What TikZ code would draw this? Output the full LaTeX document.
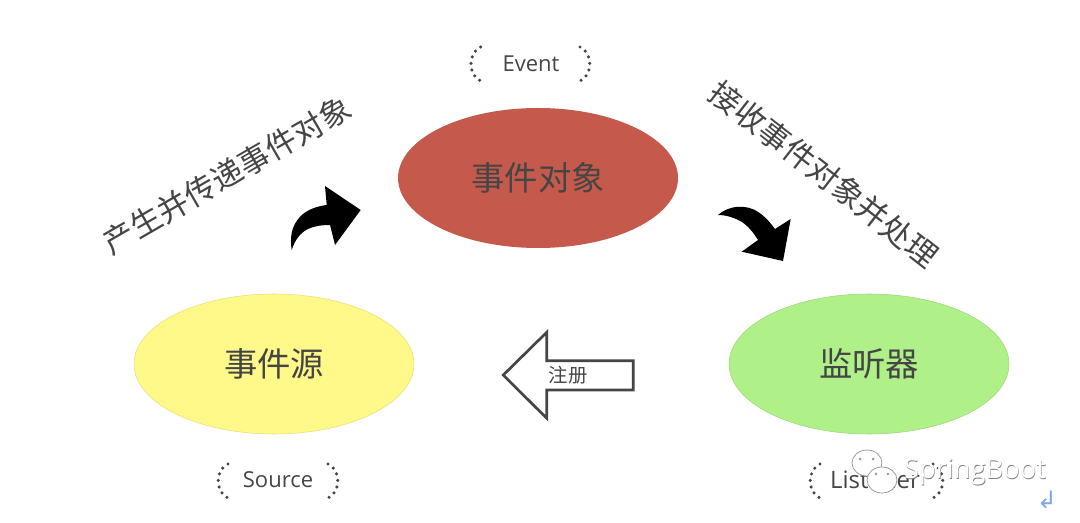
\documentclass[tikz,border=0pt]{standalone}
\usepackage{fontspec}
\setmainfont{Open Sans}
\newfontfamily\cjk{Noto Sans CJK SC}
\newfontfamily\symb{DejaVu Sans}
\usetikzlibrary{shapes.geometric}
\definecolor{inktext}{HTML}{454545}
\definecolor{redfill}{HTML}{C55A4C}
\definecolor{yellowfill}{HTML}{FFF98A}
\definecolor{greenfill}{HTML}{B0F088}
\definecolor{arrowblue}{HTML}{7FA8E8}
\tikzset{
  x=0.75pt,y=-0.75pt,
  blob/.style={ellipse,minimum width=210pt,minimum height=105pt,inner sep=0pt,text=inktext,font=\cjk\fontsize{25}{28}\selectfont},
  slanted/.style={text=inktext,font=\cjk\fontsize{23.3}{28}\selectfont,inner sep=0pt},
  tag/.style={text=inktext,font=\fontsize{16.5}{20}\selectfont,inner sep=0pt},
  bracket/.style={draw=inktext,line width=2.6pt,line cap=round,dash pattern=on 0pt off 5pt},
  bubble/.style={draw=black!45,fill=white,line width=0.5pt},
  arrowlabel/.style={text=inktext,font=\cjk\fontsize{14.5}{16}\selectfont,inner sep=0pt}
}
\begin{document}
\begin{tikzpicture}
\useasboundingbox (0,0) rectangle (1080,523);
\fill[white] (0,0) rectangle (1080,523);
% ellipses
\node[blob,fill=redfill] (event) at (538,178) {事件对象};
\node[blob,fill=yellowfill,draw=yellowfill!90!black,line width=0.4pt] (source) at (274,364) {事件源};
\node[blob,fill=greenfill,draw=greenfill!90!black,line width=0.4pt] (listener) at (869,364) {监听器};
% slanted labels
\node[slanted,rotate=30] (produce) at (227,175) {产生并传递事件对象};
\node[slanted,rotate=-38] (receive) at (824,174) {接收事件对象并处理};
% curved arrows
\fill[black] (291.7,250) .. controls (289,232) and (294,222) .. (303,214)
  .. controls (311,208) and (319,206) .. (326.7,205)
  -- (325,186) -- (360.7,210) -- (335,245) -- (330,225)
  .. controls (322,225) and (314,226) .. (308,229)
  .. controls (300,233) and (295,240) .. cycle;
\fill[black] (718,215) .. controls (726,208) and (736,206) .. (744,207)
  .. controls (757,208) and (767,218) .. (775,229)
  -- (790.7,219) -- (783,261) -- (741.7,251.7) -- (758,240)
  .. controls (753,232) and (748,226) .. (742,222)
  .. controls (735,218) and (727,215) .. cycle;
% block arrow
\draw[draw=inktext,line width=2pt,line join=miter,fill=white]
  (503.3,375) -- (546.7,332.3) -- (546.7,360.7) -- (633.3,360.7) -- (633.3,390)
  -- (546.7,390) -- (546.7,418.3) -- cycle;
\node[arrowlabel] (reg) at (568,375) {注册};
% tags
\node[tag] (eventtag) at (531,64) {Event};
\node[tag] (sourcetag) at (278,480) {Source};
\node[tag,font=\fontsize{18}{20}\selectfont] (listenertag) at (875,480) {Listener};
% dotted brackets
\foreach \cx/\lx/\rx/\cy in {531/470.7/590/64, 278/218/338/481, 877/810/943/481}{
  \draw[bracket] (\lx+10,\cy-17) .. controls (\lx-3,\cy-11) and (\lx-3,\cy+11) .. (\lx+10,\cy+17);
  \draw[bracket] (\rx-10,\cy-17) .. controls (\rx+3,\cy-11) and (\rx+3,\cy+11) .. (\rx-10,\cy+17);
}
% watermark
\draw[bubble] (867,463) ellipse [x radius=15,y radius=13];
\draw[bubble] (882,480) ellipse [x radius=15,y radius=13];
\fill[black!40] (860,459) circle (1.5) (873,459) circle (1.5) (876,474) circle (1.3) (888,474) circle (1.3);
\node[inner sep=0pt,text=black!50,font=\fontsize{20.5}{22}\selectfont] (wmshadow) at (975.6,472.6) {SpringBoot};
\node[inner sep=0pt,text=white,font=\fontsize{20.5}{22}\selectfont] (wm) at (975,472) {SpringBoot};
% return mark
\node[inner sep=0pt,text=arrowblue,font=\symb\fontsize{18}{20}\selectfont] (ret) at (1047,500) {↲};
\end{tikzpicture}
\end{document}
